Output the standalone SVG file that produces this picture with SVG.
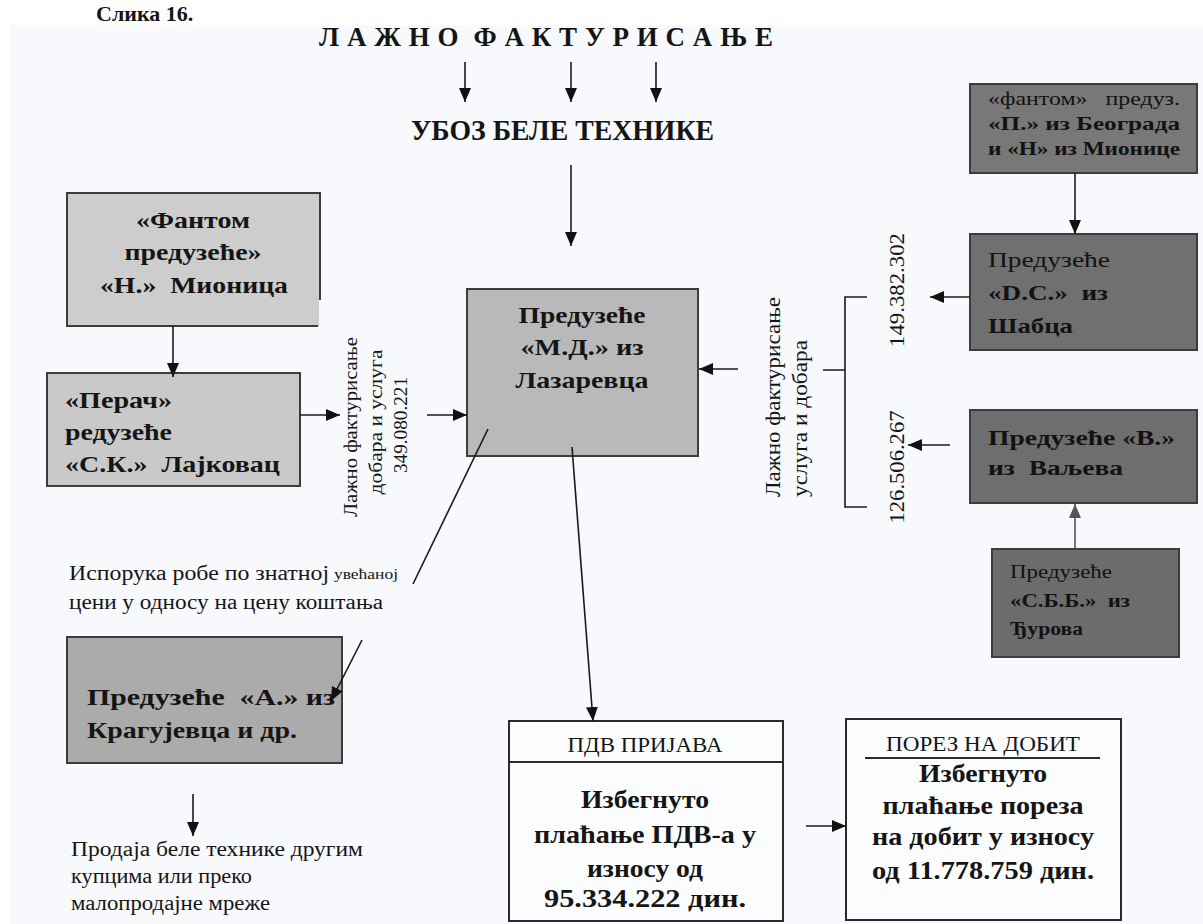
<svg xmlns="http://www.w3.org/2000/svg" width="1203" height="924" viewBox="0 0 1203 924">
<style>
text{font-family:"Liberation Serif","DejaVu Serif",serif;fill:#151515}
.b{font-weight:bold}
.box{stroke:#3c3c3c;stroke-width:2}
.wbox{fill:#fbfcfd;stroke:#2a2a2a;stroke-width:2}
.ln{stroke:#1a1a1a;stroke-width:1.6;fill:none}
.arr{stroke:#1a1a1a;stroke-width:1.6;fill:none;marker-end:url(#ah)}
.box-t{font-size:24px;font-weight:bold}
.big{font-size:26px}
.dk{font-size:21px;font-weight:bold;fill:#121212}
.dkn{font-size:21px;font-weight:normal;fill:#121212}
.s18{font-size:18px}
.s19{font-size:19px}
.sm{font-size:20px}
.vt{font-size:19px}
</style>
<defs>
<marker id="ah" markerWidth="14" markerHeight="12" refX="14" refY="6" orient="auto" markerUnits="userSpaceOnUse"><path d="M0,0 L14,6 L0,12 Z" fill="#111"/></marker>
<marker id="ahg" markerWidth="14" markerHeight="12" refX="14" refY="6" orient="auto" markerUnits="userSpaceOnUse"><path d="M0,0 L14,6 L0,12 Z" fill="#555"/></marker>
</defs>
<rect width="1203" height="924" fill="#ffffff"/>
<rect x="10" y="25" width="1193" height="899" fill="#f7f9fc"/>
<text x="96" y="21" class="b" font-size="22">Слика 16.</text>

<g id="title">
<text x="319" y="46" class="b" font-size="27" textLength="454" xml:space="preserve">Л А Ж Н О  Ф А К Т У Р И С А Њ Е</text>
</g>
<g id="uvoz">
<text x="411" y="140" class="b" font-size="29" textLength="303" lengthAdjust="spacingAndGlyphs">УБОЗ БЕЛЕ ТЕХНИКЕ</text>
</g>

<g id="fantom-n">
<rect x="67" y="193" width="252" height="133" fill="#cdcdcd"/>
<path class="box" fill="none" d="M67,326 L67,193 L320,193 L320,300 M66,326 L318,326"/>
<text class="box-t" x="193" y="228" text-anchor="middle" textLength="114" lengthAdjust="spacingAndGlyphs">«Фантом</text>
<text class="box-t" x="193" y="260" text-anchor="middle" textLength="137" lengthAdjust="spacingAndGlyphs">предузеће»</text>
<text class="box-t" x="194" y="293" text-anchor="middle" textLength="188" lengthAdjust="spacingAndGlyphs" xml:space="preserve">«Н.»  Мионица</text>
</g>

<g id="perac">
<rect class="box" x="47" y="373" width="253" height="113" fill="#c9c9c9"/>
<text class="box-t" x="65" y="408" textLength="107" lengthAdjust="spacingAndGlyphs">«Перач»</text>
<text class="box-t" x="65" y="440" textLength="107" lengthAdjust="spacingAndGlyphs">редузеће</text>
<text class="box-t" x="65" y="472" textLength="215" lengthAdjust="spacingAndGlyphs" xml:space="preserve">«С.К.»  Лајковац</text>
</g>

<g id="md">
<rect class="box" x="467" y="289" width="231" height="167" fill="#b9b9b9"/>
<text class="box-t" x="582" y="323" text-anchor="middle" textLength="127" lengthAdjust="spacingAndGlyphs">Предузеће</text>
<text class="box-t" x="582" y="355" text-anchor="middle" textLength="123" lengthAdjust="spacingAndGlyphs">«М.Д.» из</text>
<text class="box-t" x="582" y="388" text-anchor="middle" textLength="133" lengthAdjust="spacingAndGlyphs">Лазаревца</text>
</g>

<g id="label-left">
<g transform="translate(351,427) rotate(-90)"><text class="vt" x="0" y="6" text-anchor="middle" textLength="180" lengthAdjust="spacingAndGlyphs">Лажно фактурисање</text></g>
<g transform="translate(376,422) rotate(-90)"><text class="vt" x="0" y="6" text-anchor="middle" textLength="145" lengthAdjust="spacingAndGlyphs">добара и услуга</text></g>
<g transform="translate(401,425) rotate(-90)"><text class="vt" x="0" y="6" text-anchor="middle" textLength="96" lengthAdjust="spacingAndGlyphs">349.080.221</text></g>
</g>

<g id="label-right">
<g transform="translate(773,497) rotate(-90)"><text font-size="20" x="0" y="7" textLength="200" lengthAdjust="spacingAndGlyphs">Лажно фактурисање</text></g>
<g transform="translate(800,497) rotate(-90)"><text font-size="20" x="0" y="7" textLength="157" lengthAdjust="spacingAndGlyphs">услуга и добара</text></g>
<g transform="translate(897,290) rotate(-90)"><text font-size="22" x="0" y="7" text-anchor="middle" textLength="114" lengthAdjust="spacingAndGlyphs">149.382.302</text></g>
<g transform="translate(897,467) rotate(-90)"><text font-size="22" x="0" y="7" text-anchor="middle" textLength="113" lengthAdjust="spacingAndGlyphs">126.506.267</text></g>
</g>

<g id="fantom-p">
<rect class="box" x="970" y="84" width="227" height="89" fill="#787878"/>
<text class="dkn s18" x="988" y="105" textLength="192" lengthAdjust="spacingAndGlyphs" xml:space="preserve">«фантом»   предуз.</text>
<text class="dk s18" x="988" y="130" textLength="192" lengthAdjust="spacingAndGlyphs">«П.» из Београда</text>
<text class="dk s18" x="988" y="155" textLength="192" lengthAdjust="spacingAndGlyphs">и «Н» из Мионице</text>
</g>

<g id="ds">
<rect class="box" x="970" y="234" width="227" height="116" fill="#707070"/>
<text class="dkn" x="988" y="267" textLength="122" lengthAdjust="spacingAndGlyphs">Предузеће</text>
<text class="dk" x="988" y="300" textLength="120" lengthAdjust="spacingAndGlyphs" xml:space="preserve">«D.C.»  из</text>
<text class="dk" x="988" y="333" textLength="85" lengthAdjust="spacingAndGlyphs">Шабца</text>
</g>

<g id="v">
<rect class="box" x="970" y="410" width="227" height="93" fill="#6e6e6e"/>
<text class="dk" x="988" y="445" textLength="187" lengthAdjust="spacingAndGlyphs">Предузеће «В.»</text>
<text class="dk" x="988" y="475" textLength="135" lengthAdjust="spacingAndGlyphs" xml:space="preserve">из  Ваљева</text>
</g>

<g id="sbb">
<rect class="box" x="992" y="549" width="187" height="108" fill="#6c6c6c"/>
<text class="dkn s19" x="1010" y="578" textLength="102" lengthAdjust="spacingAndGlyphs">Предузеће</text>
<text class="dk s19" x="1010" y="607" textLength="120" lengthAdjust="spacingAndGlyphs" xml:space="preserve">«С.Б.Б.»  из</text>
<text class="dk s19" x="1010" y="635" textLength="73" lengthAdjust="spacingAndGlyphs">Ђурова</text>
</g>

<g id="note-isporuka">
<text class="sm" x="69" y="580" textLength="260" lengthAdjust="spacingAndGlyphs">Испорука робе по знатној</text>
<text font-size="14" x="334" y="579" textLength="64" lengthAdjust="spacingAndGlyphs">увећаној</text>
<text class="sm" x="69" y="609" textLength="314" lengthAdjust="spacingAndGlyphs">цени у односу на цену коштања</text>
</g>

<g id="a">
<rect class="box" x="67" y="637" width="275" height="126" fill="#ababab"/>
<text class="box-t" x="87" y="705" textLength="248" lengthAdjust="spacingAndGlyphs" xml:space="preserve">Предузеће  «А.» из</text>
<text class="box-t" x="87" y="738" textLength="210" lengthAdjust="spacingAndGlyphs">Крагујевца и др.</text>
</g>

<g id="note-prodaja">
<text class="sm" x="71" y="856" textLength="292" lengthAdjust="spacingAndGlyphs">Продаја беле технике другим</text>
<text class="sm" x="71" y="883" textLength="181" lengthAdjust="spacingAndGlyphs">купцима или преко</text>
<text class="sm" x="71" y="910" textLength="199" lengthAdjust="spacingAndGlyphs">малопродајне мреже</text>
</g>

<g id="pdv">
<rect class="wbox" x="509" y="721" width="274" height="200"/>
<line x1="509" y1="762" x2="783" y2="762" stroke="#2a2a2a" stroke-width="2"/>
<text font-size="20" x="645" y="752" text-anchor="middle" textLength="155" lengthAdjust="spacingAndGlyphs">ПДВ ПРИЈАВА</text>
<text class="box-t big" x="645" y="808" text-anchor="middle" textLength="128" lengthAdjust="spacingAndGlyphs">Избегнуто</text>
<text class="box-t big" x="645" y="843" text-anchor="middle" textLength="222" lengthAdjust="spacingAndGlyphs">плаћање ПДВ-а у</text>
<text class="box-t big" x="645" y="877" text-anchor="middle" textLength="116" lengthAdjust="spacingAndGlyphs">износу од</text>
<text class="box-t big" x="645" y="907" text-anchor="middle" textLength="202" lengthAdjust="spacingAndGlyphs">95.334.222 дин.</text>
</g>

<g id="porez">
<rect class="wbox" x="846" y="719" width="275" height="201"/>
<text font-size="20" x="983" y="751" text-anchor="middle" textLength="194" lengthAdjust="spacingAndGlyphs">ПОРЕЗ НА ДОБИТ</text>
<line x1="865" y1="758" x2="1100" y2="758" stroke="#2a2a2a" stroke-width="2"/>
<text class="box-t big" x="983" y="782" text-anchor="middle" textLength="128" lengthAdjust="spacingAndGlyphs">Избегнуто</text>
<text class="box-t big" x="983" y="814" text-anchor="middle" textLength="201" lengthAdjust="spacingAndGlyphs">плаћање пореза</text>
<text class="box-t big" x="983" y="845" text-anchor="middle" textLength="222" lengthAdjust="spacingAndGlyphs">на добит у износу</text>
<text class="box-t big" x="983" y="879" text-anchor="middle" textLength="222" lengthAdjust="spacingAndGlyphs">од 11.778.759 дин.</text>
</g>

<g id="connectors">
<line class="arr" x1="465" y1="62" x2="465" y2="102"/>
<line class="arr" x1="571" y1="62" x2="571" y2="102"/>
<line class="arr" x1="656" y1="62" x2="656" y2="102"/>
<line class="arr" x1="571" y1="165" x2="571" y2="246"/>
<line class="arr" x1="173" y1="326" x2="173" y2="377"/>
<line class="arr" x1="300" y1="415" x2="340" y2="415"/>
<line class="arr" x1="427" y1="415" x2="467" y2="415"/>
<line class="arr" x1="738" y1="369" x2="699" y2="369"/>
<line class="arr" x1="1075" y1="173" x2="1075" y2="234"/>
<line class="arr" x1="970" y1="297" x2="930" y2="297"/>
<line class="arr" x1="950" y1="445" x2="908" y2="445"/>
<line x1="1075" y1="549" x2="1075" y2="504" stroke="#555" stroke-width="1.6" marker-end="url(#ahg)"/>
<path class="ln" d="M867,297 L845,297 L845,507 L867,507 M823,370 L845,370"/>
<line class="ln" x1="488" y1="429" x2="413" y2="584"/>
<line class="arr" x1="362" y1="640" x2="331" y2="701"/>
<line class="arr" x1="572" y1="447" x2="593" y2="721"/>
<line class="arr" x1="193" y1="794" x2="193" y2="836"/>
<line class="arr" x1="806" y1="826" x2="846" y2="826"/>
</g>
</svg>
